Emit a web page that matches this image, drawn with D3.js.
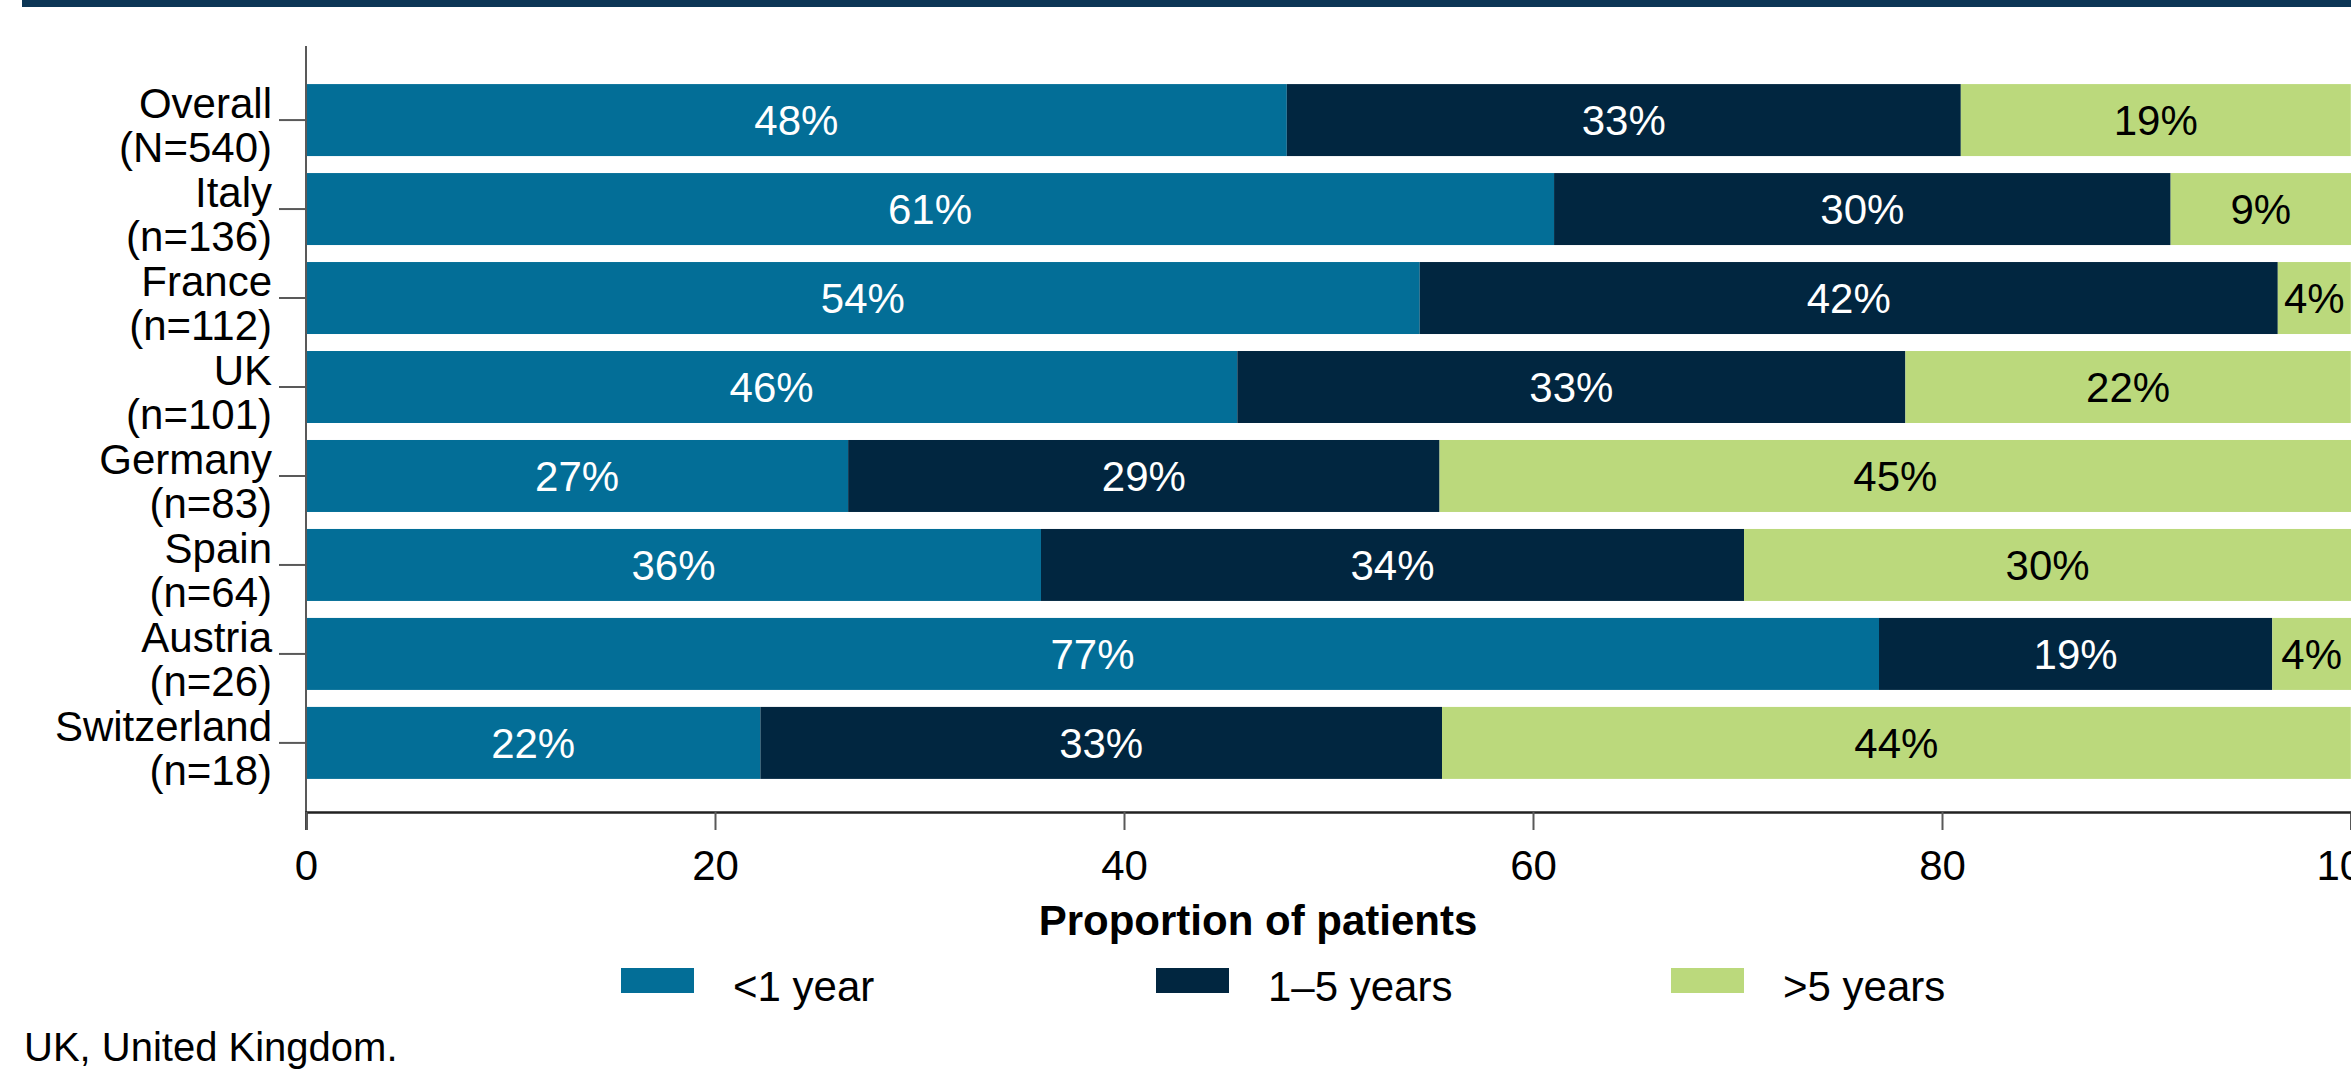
<!DOCTYPE html>
<html>
<head>
<meta charset="utf-8">
<script src="https://cdn.jsdelivr.net/npm/d3@7"></script>
<style>
  body { margin: 0; background: #fff; }
  text { font-family: "Liberation Sans", Arial, sans-serif; }
</style>
</head>
<body>
<script>
// country rows, top to bottom
var countries = ["Overall", "Italy", "France", "UK", "Germany", "Spain", "Austria", "Switzerland"];
var sizes = ["(N=540)", "(n=136)", "(n=112)", "(n=101)", "(n=83)", "(n=64)", "(n=26)", "(n=18)"];

// proportion of patients (%) per duration group
var underOne = [47.96, 61.03, 54.46, 45.54, 26.51, 35.94, 76.92, 22.22];
var oneToFive = [32.96, 30.15, 41.96, 32.67, 28.92, 34.38, 19.23, 33.33];
var overFive = [19.07, 8.82, 3.57, 21.78, 44.58, 29.69, 3.85, 44.44];

var groups = ["<1 year", "1–5 years", ">5 years"];
var groupColors = ["#036e97", "#012640", "#bbd97c"];
var labelColors = ["#fff", "#fff", "#000"];

var xTicks = [0, 20, 40, 60, 80, 100];

var width = 2351, height = 1069;

var svg = d3.select("body").append("svg")
  .attr("width", width)
  .attr("height", height);

// dark band along the top
svg.append("rect")
  .attr("x", 22).attr("y", 0)
  .attr("width", width - 22).attr("height", 7)
  .attr("fill", "#0c3656");

var x = d3.scaleLinear().domain([0, 100]).range([306, 2351]);

var y = d3.scaleBand()
  .domain(countries)
  .range([46, 812])
  .paddingInner(0.191)
  .paddingOuter(0.4)
  .align(0.535);

// stack the three groups
var rows = countries.map(function(c, i) {
  return {country: c, g0: underOne[i], g1: oneToFive[i], g2: overFive[i]};
});
var stack = d3.stack().keys(["g0", "g1", "g2"]);
var series = stack(rows);

var layer = svg.selectAll(".layer")
  .data(series)
  .enter().append("g")
  .attr("class", "layer")
  .attr("fill", function(d, i) { return groupColors[i]; });

layer.selectAll("rect")
  .data(function(d) { return d; })
  .enter().append("rect")
  .attr("x", function(d) { return x(d[0]); })
  .attr("y", function(d) { return y(d.data.country); })
  .attr("width", function(d) { return x(d[1]) - x(d[0]); })
  .attr("height", y.bandwidth());

// percentage labels in the middle of each segment
series.forEach(function(s, i) {
  svg.selectAll(".lab" + i)
    .data(s)
    .enter().append("text")
    .attr("x", function(d) { return x((d[0] + d[1]) / 2); })
    .attr("y", function(d) { return y(d.data.country) + y.bandwidth() / 2 + 15; })
    .attr("text-anchor", "middle")
    .attr("font-size", 42)
    .attr("fill", labelColors[i])
    .text(function(d) { return Math.round(d[1] - d[0]) + "%"; });
});

// y axis
svg.append("line")
  .attr("x1", 306).attr("x2", 306)
  .attr("y1", 46).attr("y2", 830)
  .attr("stroke", "#595959").attr("stroke-width", 2);

svg.selectAll(".ytick")
  .data(countries)
  .enter().append("line")
  .attr("x1", 279).attr("x2", 306)
  .attr("y1", function(d) { return y(d) + y.bandwidth() / 2; })
  .attr("y2", function(d) { return y(d) + y.bandwidth() / 2; })
  .attr("stroke", "#595959").attr("stroke-width", 2);

var ylab = svg.selectAll(".ylab")
  .data(countries)
  .enter().append("text")
  .attr("text-anchor", "end")
  .attr("font-size", 42)
  .attr("fill", "#000");
ylab.append("tspan")
  .attr("x", 272)
  .attr("y", function(d) { return y(d) + y.bandwidth() / 2 - 2; })
  .text(function(d) { return d; });
ylab.append("tspan")
  .attr("x", 272)
  .attr("y", function(d) { return y(d) + y.bandwidth() / 2 + 42; })
  .text(function(d, i) { return sizes[i]; });

// x axis
var xAxis = d3.axisBottom(x)
  .tickValues(xTicks)
  .tickSize(18)
  .tickPadding(20)
  .tickFormat(d3.format("d"));

var gx = svg.append("g")
  .attr("transform", "translate(0,812)")
  .call(xAxis);
gx.select(".domain").attr("stroke", "#222").attr("stroke-width", 2.5);
gx.selectAll(".tick line").attr("stroke", "#595959").attr("stroke-width", 2);
gx.selectAll(".tick text")
  .attr("font-size", 42)
  .attr("font-family", "Liberation Sans, Arial, sans-serif")
  .attr("fill", "#000");

svg.append("text")
  .attr("x", 1258).attr("y", 935)
  .attr("text-anchor", "middle")
  .attr("font-size", 42)
  .attr("font-weight", "bold")
  .text("Proportion of patients");

// legend
var legendX = [621, 1156, 1671];
var leg = svg.selectAll(".legend")
  .data(groups)
  .enter().append("g")
  .attr("transform", function(d, i) { return "translate(" + legendX[i] + ",968)"; });
leg.append("rect")
  .attr("width", 73).attr("height", 25)
  .attr("fill", function(d, i) { return groupColors[i]; });
leg.append("text")
  .attr("x", 112).attr("y", 33)
  .attr("font-size", 42)
  .text(function(d) { return d; });

// footnote
svg.append("text")
  .attr("x", 24).attr("y", 1061)
  .attr("font-size", 40)
  .text("UK, United Kingdom.");
</script>
</body>
</html>
